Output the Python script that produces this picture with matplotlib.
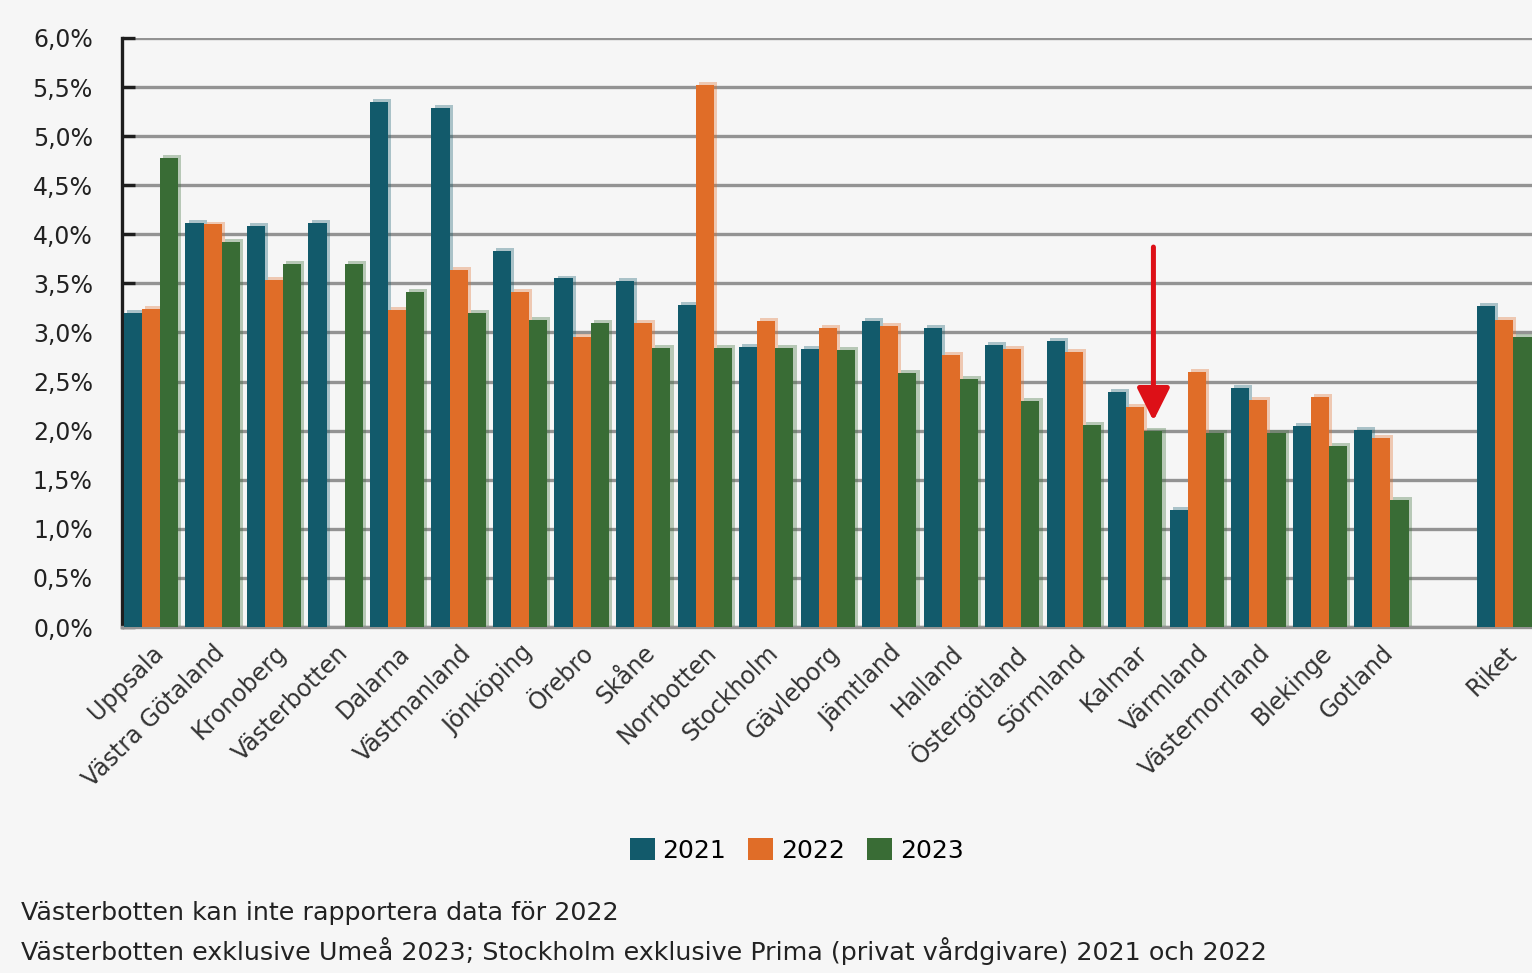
import numpy as np
import matplotlib
matplotlib.use("Agg")
import matplotlib.pyplot as plt
from matplotlib.ticker import FuncFormatter

plt.rcParams['font.family'] = ['DejaVu Sans']

regions = ["Uppsala", "Västra Götaland", "Kronoberg", "Västerbotten", "Dalarna",
           "Västmanland", "Jönköping", "Örebro", "Skåne", "Norrbotten", "Stockholm",
           "Gävleborg", "Jämtland", "Halland", "Östergötland", "Sörmland", "Kalmar",
           "Värmland", "Västernorrland", "Blekinge", "Gotland", "Riket"]
y2021 = [3.20, 4.12, 4.08, 4.12, 5.35, 5.29, 3.83, 3.55, 3.52, 3.28, 2.85,
         2.83, 3.12, 3.05, 2.87, 2.91, 2.39, 1.19, 2.43, 2.05, 2.01, 3.27]
y2022 = [3.24, 4.10, 3.53, np.nan, 3.23, 3.64, 3.41, 2.95, 3.10, 5.52, 3.12,
         3.05, 3.07, 2.77, 2.83, 2.80, 2.24, 2.60, 2.31, 2.34, 1.93, 3.13]
y2023 = [4.78, 3.92, 3.70, 3.70, 3.41, 3.20, 3.13, 3.10, 2.84, 2.84, 2.84,
         2.82, 2.59, 2.53, 2.30, 2.06, 2.00, 1.98, 1.98, 1.84, 1.29, 2.95]
years = ["2021", "2022", "2023"]
colors = ["#125a6b", "#e06d28", "#396c35"]

notes = ["Västerbotten kan inte rapportera data för 2022",
         "Västerbotten exklusive Umeå 2023; Stockholm exklusive Prima (privat vårdgivare) 2021 och 2022"]

bg = "#f6f6f6"
fig = plt.figure(figsize=(15.32, 9.73), dpi=100, facecolor=bg)
ax = fig.add_axes([0.0796, 0.3556, 0.9204, 0.6054])
ax.set_facecolor(bg)

x = np.array(list(range(21)) + [22], dtype=float)
w = 0.295
for i, (vals, c) in enumerate(zip([y2021, y2022, y2023], colors)):
    v = np.array(vals, dtype=float)
    pos = x + (i - 1) * w
    ax.bar(pos + 0.05, v + 0.03, w, color=c, alpha=0.33, linewidth=0, zorder=2)
    ax.bar(pos, v, w, color=c, linewidth=0, zorder=3, label=years[i])

ax.set_ylim(0, 6.0)
ax.set_xlim(-0.475, 22.45)
ax.set_yticks(np.arange(0, 6.01, 0.5))
ax.yaxis.set_major_formatter(FuncFormatter(lambda v, p: f"{v:.1f}%".replace(".", ",")))
ax.grid(axis='y', color="#939393", linewidth=2.4, zorder=1)
ax.set_axisbelow(True)
for s in ["top", "right"]:
    ax.spines[s].set_visible(False)
ax.spines["bottom"].set_color("#939393")
ax.spines["bottom"].set_linewidth(2.4)
ax.spines["left"].set_color("#1e1e1e")
ax.spines["left"].set_linewidth(2.4)
ax.tick_params(axis='y', direction='in', length=9, width=2.4, color="#1e1e1e",
               labelsize=17, labelcolor="#222222", pad=21)
ax.set_xticks(x)
ax.set_xticklabels(regions, rotation=45, ha='right', rotation_mode='anchor',
                   fontsize=17, color="#333333")
ax.tick_params(axis='x', length=0, pad=10)

# red arrow at Kalmar 2023
ax.annotate("", xy=(16 + w, 2.10), xytext=(16 + w, 3.87),
            arrowprops=dict(arrowstyle="-|>,head_width=0.5,head_length=1.0",
                            mutation_scale=20, color="#dd1017", lw=3.6,
                            shrinkA=0, shrinkB=0), zorder=5)

fig.legend(loc="center", bbox_to_anchor=(0.52, 0.126), ncol=3, frameon=False,
           fontsize=18, handlelength=1.0, handleheight=1.0, handletextpad=0.3,
           columnspacing=0.9)
fig.text(0.014, 0.062, notes[0], fontsize=18.3, color="#222222", va='center')
fig.text(0.014, 0.023, notes[1], fontsize=18.3, color="#222222", va='center')

fig.savefig("out.png", dpi=100, facecolor=bg)
